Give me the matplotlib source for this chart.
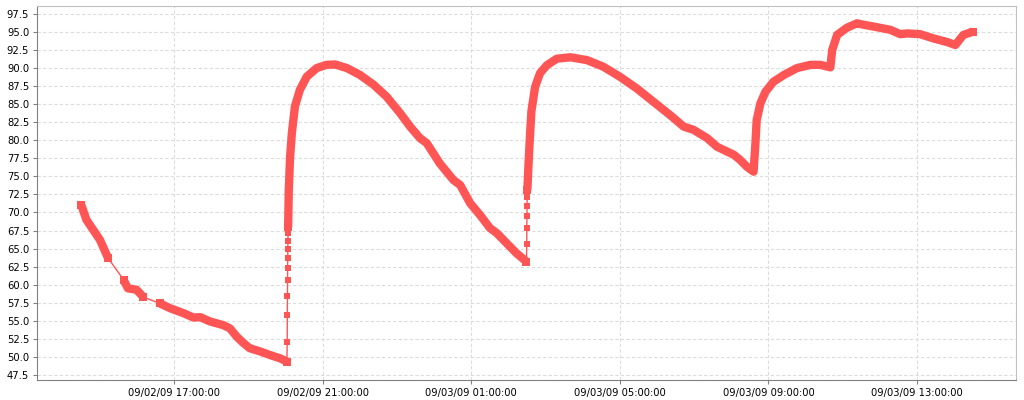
import matplotlib
matplotlib.use("Agg")
import matplotlib.pyplot as plt
import matplotlib.dates as mdates
import numpy as np
import pandas as pd

# readings, split into dense runs and the sparse jumps between them
drop1_t = ["09-02 14:30", "09-02 14:38", "09-02 15:00", "09-02 15:13"]
drop1_v = [71.0, 69.0, 66.2, 63.7]

drop2_t = ["09-02 15:38", "09-02 15:45", "09-02 15:59", "09-02 16:10"]
drop2_v = [60.7, 59.5, 59.3, 58.3]

drop3_t = ["09-02 16:37", "09-02 16:53", "09-02 17:15", "09-02 17:31", "09-02 17:42",
           "09-02 17:58", "09-02 18:19", "09-02 18:30", "09-02 18:41", "09-02 18:52",
           "09-02 19:02", "09-02 19:19", "09-02 19:35", "09-02 19:51", "09-02 20:02"]
drop3_v = [57.4, 56.75, 56.05, 55.45, 55.5, 54.9, 54.4, 53.95, 52.8, 51.9,
           51.2, 50.75, 50.25, 49.8, 49.35]

jump1_t = ["09-02 20:02:30", "09-02 20:02:40", "09-02 20:02:50", "09-02 20:03:00",
           "09-02 20:03:10", "09-02 20:03:20", "09-02 20:03:30", "09-02 20:03:40",
           "09-02 20:03:50", "09-02 20:04:00"]
jump1_v = [52.1, 55.8, 58.5, 60.7, 62.3, 63.75, 64.9, 66.0, 67.1, 68.0]

cycle2_t = ["09-02 20:04", "09-02 20:05", "09-02 20:07", "09-02 20:10", "09-02 20:15",
            "09-02 20:23", "09-02 20:34", "09-02 20:50", "09-02 21:06", "09-02 21:20",
            "09-02 21:39", "09-02 22:00", "09-02 22:22", "09-02 22:43", "09-02 23:05",
            "09-02 23:21", "09-02 23:37", "09-02 23:48", "09-03 00:09", "09-03 00:31",
            "09-03 00:42", "09-03 00:58", "09-03 01:14", "09-03 01:30", "09-03 01:41",
            "09-03 01:57", "09-03 02:13", "09-03 02:29"]
cycle2_v = [68.0, 73.0, 77.5, 81.0, 84.7, 87.0, 88.8, 90.0, 90.45, 90.5,
            90.0, 89.05, 87.7, 86.05, 83.75, 81.9, 80.3, 79.6, 76.8, 74.5,
            73.8, 71.3, 69.65, 67.85, 67.15, 65.75, 64.35, 63.2]

jump2_t = ["09-03 02:29:30", "09-03 02:29:40", "09-03 02:29:50", "09-03 02:30:00",
           "09-03 02:30:10", "09-03 02:30:20"]
jump2_v = [65.65, 67.8, 69.5, 70.95, 72.2, 73.1]

cycle3_t = ["09-03 02:30:30", "09-03 02:32", "09-03 02:34", "09-03 02:37", "09-03 02:43",
            "09-03 02:51", "09-03 03:02", "09-03 03:18", "09-03 03:40", "09-03 04:07",
            "09-03 04:33", "09-03 05:00", "09-03 05:27", "09-03 05:54", "09-03 06:21",
            "09-03 06:43", "09-03 06:59", "09-03 07:21", "09-03 07:37", "09-03 08:04",
            "09-03 08:14", "09-03 08:25", "09-03 08:36", "09-03 08:39", "09-03 08:41",
            "09-03 08:47", "09-03 08:55", "09-03 09:08", "09-03 09:25", "09-03 09:46",
            "09-03 10:08", "09-03 10:24", "09-03 10:40", "09-03 10:43", "09-03 10:51",
            "09-03 11:07", "09-03 11:23", "09-03 11:28", "09-03 11:50", "09-03 12:17",
            "09-03 12:33", "09-03 12:44", "09-03 13:05", "09-03 13:27", "09-03 13:49",
            "09-03 14:02", "09-03 14:15", "09-03 14:31"]
cycle3_v = [73.1, 76.0, 79.5, 84.0, 87.4, 89.3, 90.4, 91.3, 91.5, 91.1,
            90.2, 88.8, 87.2, 85.35, 83.5, 81.9, 81.45, 80.3, 79.1, 78.0,
            77.3, 76.35, 75.65, 79.6, 82.8, 85.1, 86.7, 88.1, 89.05, 90.0,
            90.45, 90.45, 90.1, 92.5, 94.6, 95.6, 96.2, 96.1, 95.75, 95.3,
            94.7, 94.8, 94.7, 94.1, 93.6, 93.2, 94.6, 95.05]

y_ticks = np.arange(47.5, 97.6, 2.5)
x_ticks = ["09-02 17:00", "09-02 21:00", "09-03 01:00", "09-03 05:00", "09-03 09:00", "09-03 13:00"]


def ts(lst):
    return pd.to_datetime(["2009-" + s for s in lst], format="mixed")


red = "#ff5555"

fig = plt.figure(figsize=(10.24, 4.0), dpi=100)
ax = fig.add_axes([0.0366, 0.05, 0.9556, 0.935])

all_t = []
all_v = []
for t, v in [(drop1_t, drop1_v), (drop2_t, drop2_v), (drop3_t, drop3_v), (jump1_t, jump1_v),
             (cycle2_t, cycle2_v), (jump2_t, jump2_v), (cycle3_t, cycle3_v)]:
    all_t += list(t)
    all_v += list(v)
ax.plot(ts(all_t), all_v, color=red, lw=1.0, zorder=3)

# dense runs: markers merge into a thick band
for t, v in [(drop1_t, drop1_v), (drop2_t, drop2_v), (drop3_t, drop3_v),
             (cycle2_t, cycle2_v), (cycle3_t, cycle3_v)]:
    ax.plot(ts(t), v, color=red, lw=6.0, solid_capstyle="butt",
            solid_joinstyle="round", marker="s", ms=6, mew=0,
            markevery=[0, len(t) - 1], zorder=4)

for t, v in [(jump1_t, jump1_v), (jump2_t, jump2_v)]:
    ax.plot(ts(t), v, ls="none", marker="s", ms=4.5, color=red, mew=0, zorder=4)

ax.set_xlim(pd.Timestamp("2009-09-02 13:19"), pd.Timestamp("2009-09-03 15:40"))
ax.set_ylim(46.8, 98.6)
ax.set_yticks(y_ticks)
ax.set_xticks(ts(x_ticks))
ax.xaxis.set_major_formatter(mdates.DateFormatter("%m/%d/%y %H:%M:%S"))
ax.yaxis.set_major_formatter(matplotlib.ticker.FormatStrFormatter("%.1f"))

ax.grid(True, color="#dcdcdc", ls=(0, (3, 2)), lw=0.8)
ax.set_axisbelow(True)
ax.tick_params(labelsize=7.2, length=3, width=0.8, color="#808080", pad=3)

for side in ["top", "right"]:
    ax.spines[side].set_color("#c0c0c0")
for side in ["left", "bottom"]:
    ax.spines[side].set_color("#808080")

fig.savefig("out.png", dpi=100)
